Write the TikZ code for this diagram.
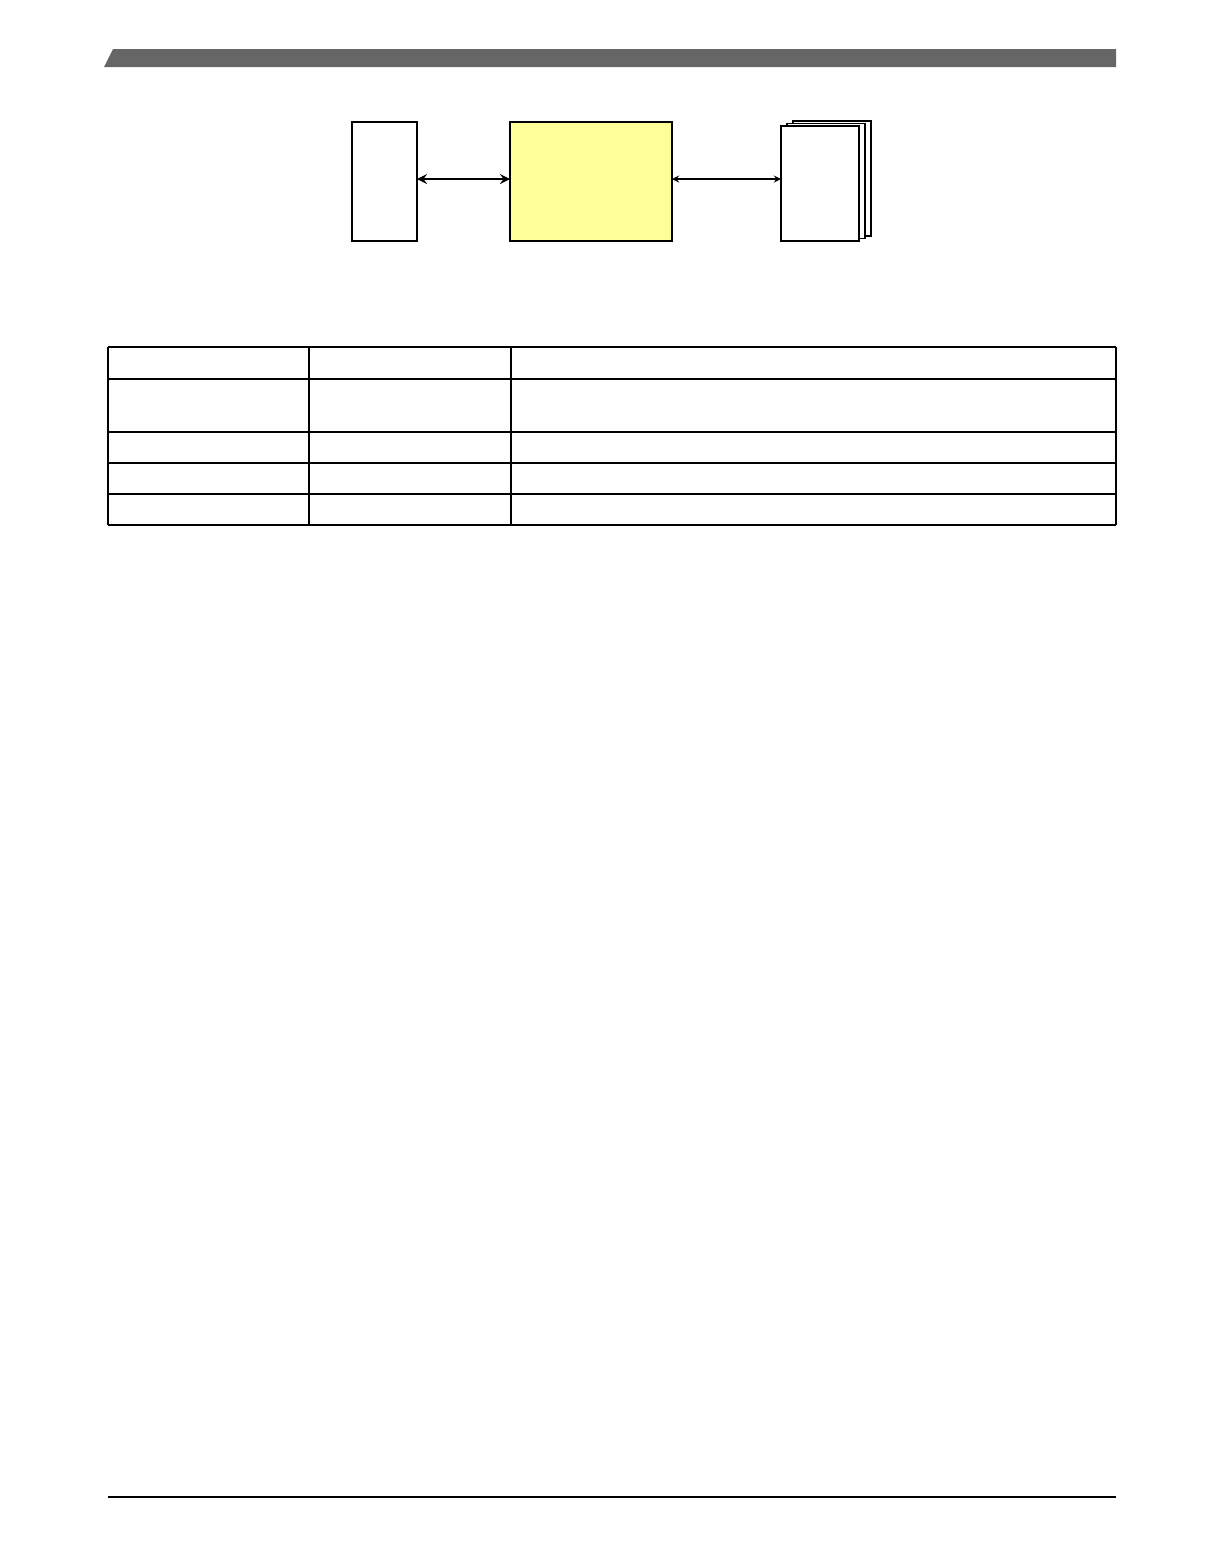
\documentclass[tikz,border=0pt]{standalone}
\usepackage{tikz}
\usepackage{xcolor}
\definecolor{headergray}{RGB}{102,102,102}
\definecolor{blockyellow}{RGB}{255,255,153}
\tikzset{
	blk/.style={draw, line width=1pt, inner sep=0pt, outer sep=0pt, minimum height=57.5pt},
	pg/.style={draw, line width=0.8pt, fill=white, inner sep=0pt, outer sep=0pt, minimum width=39pt, minimum height=57.5pt}
}
\begin{document}
\begin{tikzpicture}[x=0.5pt, y=-0.5pt]
		\useasboundingbox (0,0) rectangle (1224,1555);
		% header bar
		\fill[headergray] (104,67)--(113,49)--(1116,49)--(1116,67)--cycle;
		% block diagram
		\node[blk, minimum width=32.5pt, minimum height=59.5pt] (host) at (384.5,181.5) {};
		\node[blk, fill=blockyellow, minimum width=81pt, minimum height=59.5pt] (ctrl) at (591,181.5) {};
		\node[pg] (pgc) at (832,178.5) {};
		\node[pg] (pgb) at (826,181) {};
		\node[pg] (pga) at (820,183.5) {};
		\draw[<->, >=stealth, line width=1.2pt] (host.east |- 0,179) -- (ctrl.west |- 0,179);
		\draw[<->, >=stealth, line width=0.6pt] (ctrl.east |- 0,179) -- (pga.west |- 0,179);
		% table
		\draw[line width=1.2pt] (108,347)--(1116,347) (108,379)--(1116,379);
		\draw[line width=0.8pt] (108,432)--(1116,432) (108,463)--(1116,463) (108,494)--(1116,494) (108,525)--(1116,525);
		\draw[line width=0.8pt] (108,347)--(108,525) (1116,347)--(1116,525);
		\draw[line width=0.6pt] (309,347)--(309,525) (511,347)--(511,525);
		% footer rule
		\draw[line width=0.8pt] (108,1497)--(1116,1497);
	\end{tikzpicture}
\end{document}
